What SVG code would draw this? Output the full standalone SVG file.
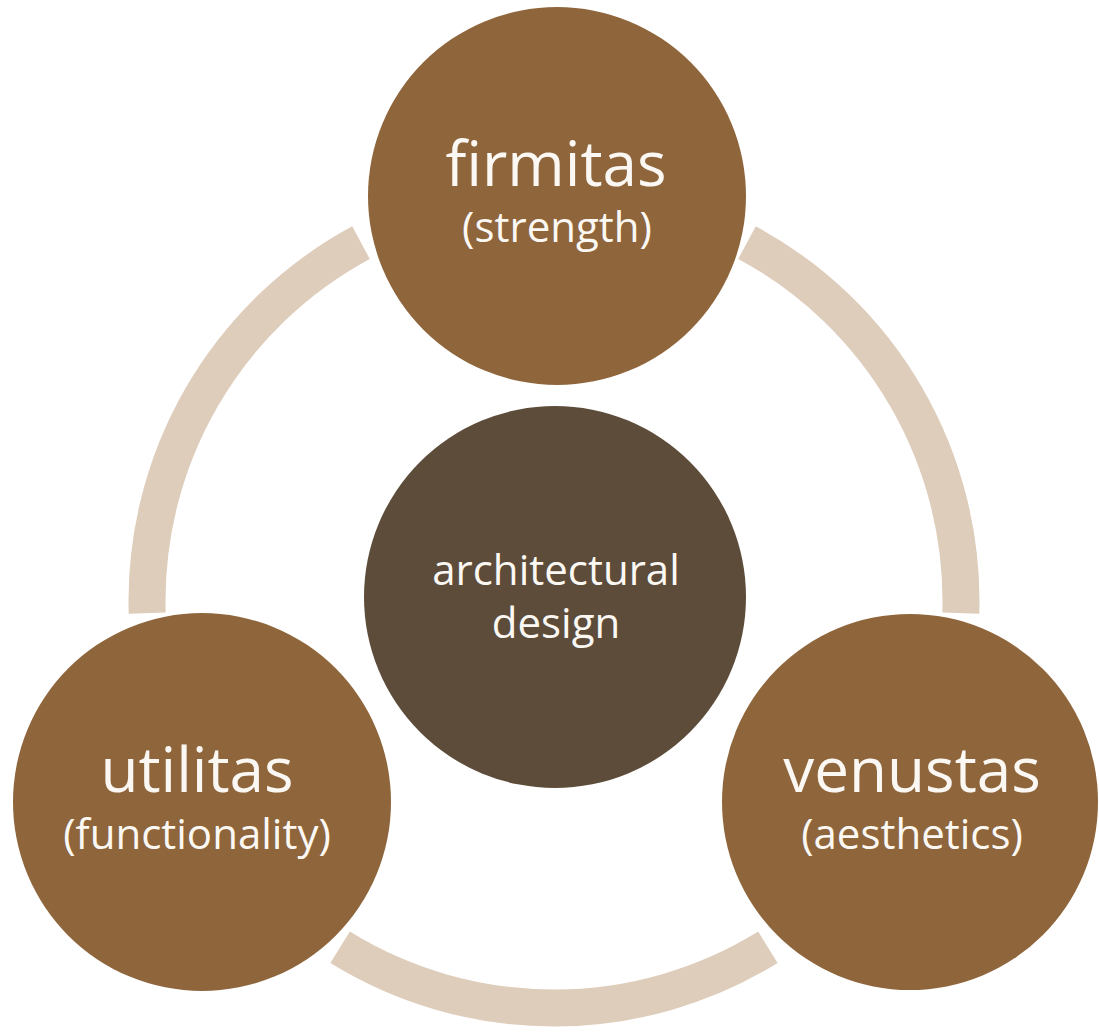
<svg xmlns="http://www.w3.org/2000/svg" width="1099" height="1032" viewBox="0 0 1099 1032">
<style>
.ring{fill:none;stroke:#dfcdbb;stroke-width:37;stroke-linecap:butt}
.node{fill:#8f653b}
.core{fill:#5d4c3a}
.big{font-family:"Open Sans","Noto Sans",sans-serif;font-size:62px;fill:#fbf8f4;text-anchor:middle}
.small{font-family:"Open Sans","Noto Sans",sans-serif;font-size:42px;fill:#fbf8f4;text-anchor:middle}
</style>
<rect width="1099" height="1032" fill="#ffffff"/>
<g id="connectors">
<path class="ring" d="M147.2,613.1 A407,407 0 0 1 361,242.6"/>
<path class="ring" d="M747,242.6 A407,407 0 0 1 960.8,613.1"/>
<path class="ring" d="M767.9,947.3 A407,407 0 0 1 340.1,947.3"/>
</g>
<g id="firmitas">
<circle class="node" cx="557" cy="196" r="189"/>
<text class="big" x="556" y="186">firmitas</text>
<text class="small" x="557" y="242">(strength)</text>
</g>
<g id="architectural-design">
<circle class="core" cx="555" cy="597" r="191"/>
<text class="small" x="556" y="585">architectural</text>
<text class="small" x="556" y="638">design</text>
</g>
<g id="utilitas">
<circle class="node" cx="202" cy="802" r="189"/>
<text class="big" x="197" y="792">utilitas</text>
<text class="small" x="197" y="849">(functionality)</text>
</g>
<g id="venustas">
<circle class="node" cx="910" cy="802" r="188"/>
<text class="big" x="912" y="792">venustas</text>
<text class="small" x="912" y="849">(aesthetics)</text>
</g>
</svg>
